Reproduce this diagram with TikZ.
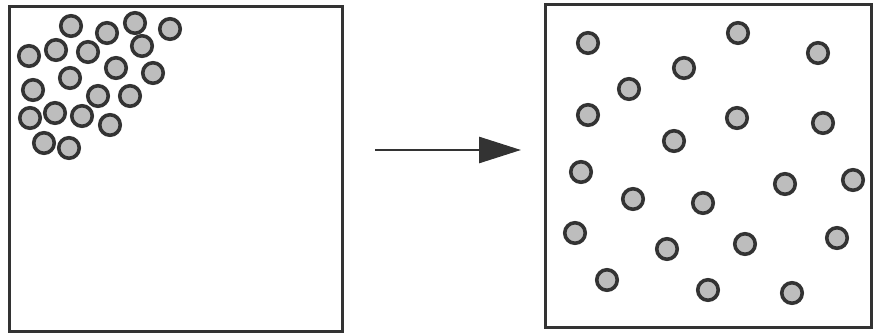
\documentclass[tikz,border=0pt]{standalone}
\usetikzlibrary{arrows.meta}
\definecolor{ink}{HTML}{333333}
\definecolor{ballfill}{HTML}{BDBDBD}
\begin{document}
\begin{tikzpicture}[x=1pt,y=-1pt,
  box/.style={draw=ink,line width=3pt,minimum width=#1,inner sep=0pt,outer sep=0pt},
  ball/.style={circle,draw=ink,fill=ballfill,line width=3.6pt,minimum size=20.5pt,inner sep=0pt},
  bigarrow/.style={draw=ink,line width=2.8pt,-{Triangle[length=42pt,width=26pt]}}]
\useasboundingbox (0,0) rectangle (873,334);
\node[box=333pt,minimum height=324pt] (leftbox) at (175.5,169) {};
\node[box=326pt,minimum height=322pt] (rightbox) at (708,166) {};
% left box molecules
\foreach \n/\x/\y in {1/71/26,2/107/33,3/135/23,4/170/29,5/29/56,6/56/50,7/88/52,8/142/46,9/116/68,10/70/78,11/153/73,12/33/90,13/98/96,14/130/96,15/30/118,16/55/113,17/82/116,18/110/125,19/44/143,20/69/148}
  \node[ball] (l\n) at (\x,\y) {};
% right box molecules
\foreach \n/\x/\y in {1/588/43,2/738/33,3/818/53,4/684/68,5/629/89,6/588/115,7/737/118,8/823/123,9/674/141,10/581/172,11/785/184,12/853/180,13/633/199,14/703/203,15/575/233,16/667/249,17/745/244,18/837/238,19/607/280,20/708/290,21/792/293}
  \node[ball] (r\n) at (\x,\y) {};
\coordinate (astart) at (375,150);
\coordinate (aend) at (521,150);
\draw[bigarrow] (astart) -- (aend);
\end{tikzpicture}
\end{document}
